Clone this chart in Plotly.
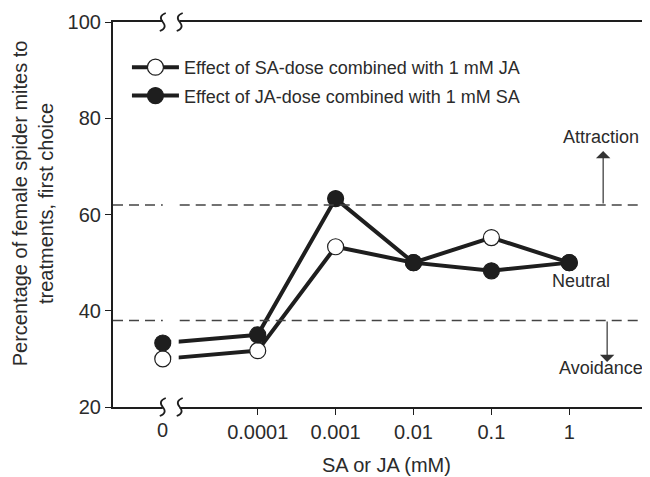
import math
import plotly.graph_objects as go

# ---- data ----
dose_labels = ["0", "0.0001", "0.001", "0.01", "0.1", "1"]
doses = [0, 0.0001, 0.001, 0.01, 0.1, 1]
sa_dose_with_ja = [30.0, 31.7, 53.3, 50.0, 55.2, 50.0]   # open circles
ja_dose_with_sa = [33.3, 35.0, 63.3, 50.0, 48.3, 50.0]   # filled circles
attraction_level = 62
avoidance_level = 38
series_names = ["Effect of SA-dose combined with 1 mM JA",
                "Effect of JA-dose combined with 1 mM SA"]

# ---- layout geometry (window pixels) ----
W, H = 650, 477
OFF = 8                      # default page body margin
L, R, T, B = 113, 647, 22, 407
XR = [-5.858, 0.972]
YR = [20, 100]
ZERO_POS = -5.219            # where the "0" dose sits, left of the axis break

xs = [math.log10(d) if d > 0 else ZERO_POS for d in doses]

def x2px(v):
    return L + (v - XR[0]) / (XR[1] - XR[0]) * (R - L)

def px(xp):
    return (xp - L) / (R - L)

def py(yp):
    return (B - yp) / (B - T)

def y2px(v):
    return B - (v - YR[0]) / (YR[1] - YR[0]) * (B - T)

INK = "#1e1e1e"
TXT = "#2b2b2b"
FONT = "Liberation Sans, Arial, sans-serif"

fig = go.Figure()
fig.add_trace(go.Scatter(
    x=xs, y=sa_dose_with_ja, mode="lines+markers", name=series_names[0],
    legendgroup="a",
    line=dict(color=INK, width=4),
    marker=dict(size=16, color="white", line=dict(color=INK, width=1.2)),
))
fig.add_trace(go.Scatter(
    x=xs, y=ja_dose_with_sa, mode="lines+markers", name=series_names[1],
    legendgroup="b",
    line=dict(color=INK, width=4),
    marker=dict(size=16, color=INK, line=dict(color=INK, width=1.2)),
))

shapes = []
b1 = x2px(ZERO_POS)           # first break mark (pixel)
b2 = b1 + 17                  # second break mark (pixel)

# dashed reference lines, interrupted at the break
for lvl in (attraction_level, avoidance_level):
    yp = py(y2px(lvl))
    for x0, x1 in ((px(L), px(b1)), (px(b2), px(R))):
        shapes.append(dict(type="line", xref="paper", yref="paper",
                           x0=x0, x1=x1, y0=yp, y1=yp,
                           line=dict(color="#444", width=1.5, dash="10px,6px")))

# white gap in series lines at the break
shapes.append(dict(type="rect", xref="paper", yref="paper", layer="above",
                   x0=px(b1 + 8.5), x1=px(b2 - 1), y0=py(B + 4), y1=py(T - 4),
                   fillcolor="white", line=dict(width=0)))
# gaps in the axis lines between break marks
for yc in (T, B):
    shapes.append(dict(type="rect", xref="paper", yref="paper", layer="above",
                       x0=px(b1), x1=px(b2), y0=py(yc + 4), y1=py(yc - 4),
                       fillcolor="white", line=dict(width=0)))

def s_path(cx, cy):
    pts = [(cx + 3, cy - 9), (cx - 5, cy - 6), (cx, cy),
           (cx + 5, cy + 6), (cx - 3, cy + 9)]
    p = [(px(a), py(b)) for a, b in pts]
    return (f"M {p[0][0]},{p[0][1]} Q {p[1][0]},{p[1][1]} {p[2][0]},{p[2][1]} "
            f"Q {p[3][0]},{p[3][1]} {p[4][0]},{p[4][1]}")

for yc in (T, B):
    for cx in (b1, b2):
        shapes.append(dict(type="path", xref="paper", yref="paper", layer="above",
                           path=s_path(cx, yc), line=dict(color=INK, width=1.8)))

annotations = [
    dict(text=dose_labels[0], xref="x", yref="paper", x=xs[0], y=py(B + 10),
         xanchor="center", yanchor="top", showarrow=False,
         font=dict(size=20, color=TXT, family=FONT)),
    dict(text="Percentage of female spider mites to<br>treatments, first choice",
         xref="paper", yref="paper", x=px(33), y=py(203), textangle=-90,
         showarrow=False, xanchor="center", yanchor="middle",
         font=dict(size=20, color=TXT, family=FONT)),
    dict(text="SA or JA (mM)", xref="paper", yref="paper", x=px(388), y=py(465),
         showarrow=False, xanchor="center", yanchor="middle",
         font=dict(size=20, color=TXT, family=FONT)),
    dict(text="Attraction", xref="paper", yref="paper", x=px(603), y=py(137),
         xanchor="center", yanchor="middle",
         showarrow=False, font=dict(size=18, color=TXT, family=FONT)),
    dict(text="Neutral", xref="paper", yref="paper", x=px(583), y=py(281),
         xanchor="center", yanchor="middle",
         showarrow=False, font=dict(size=18, color=TXT, family=FONT)),
    dict(text="Avoidance", xref="paper", yref="paper", x=px(603), y=py(368),
         xanchor="center", yanchor="middle",
         showarrow=False, font=dict(size=18, color=TXT, family=FONT)),
    dict(text="", xref="paper", yref="paper", x=px(605), y=py(151),
         ax=0, ay=54, showarrow=True, arrowhead=1, arrowsize=2,
         arrowwidth=1.2, arrowcolor="#333"),
    dict(text="", xref="paper", yref="paper", x=px(609), y=py(362),
         ax=0, ay=-42, showarrow=True, arrowhead=1, arrowsize=2,
         arrowwidth=1.2, arrowcolor="#333"),
]

fig.update_layout(
    width=W - OFF, height=H - OFF,
    margin=dict(l=L - OFF, r=W - R, t=T - OFF, b=H - B, pad=0),
    paper_bgcolor="white", plot_bgcolor="white",
    font=dict(family=FONT, color=TXT, size=18),
    showlegend=True,
    legend=dict(x=px(127), y=py(49), xanchor="left", yanchor="top",
                bgcolor="rgba(0,0,0,0)", font=dict(size=18, color=TXT, family=FONT),
                tracegroupgap=2, itemwidth=47),
    shapes=shapes,
    annotations=annotations,
    xaxis=dict(range=XR, showgrid=False, zeroline=False,
               showline=True, linecolor=INK, linewidth=2.2, mirror=True,
               ticks="outside", ticklen=6, tickwidth=1.2, tickcolor=INK,
               tickvals=xs[1:], ticktext=dose_labels[1:],
               tickfont=dict(size=20, color=TXT, family=FONT)),
    yaxis=dict(range=YR, showgrid=False, zeroline=False,
               showline=True, linecolor=INK, linewidth=2.2, mirror=True,
               ticks="outside", ticklen=6, tickwidth=1.2, tickcolor=INK,
               tickvals=[20, 40, 60, 80, 100],
               tickfont=dict(size=20, color=TXT, family=FONT)),
)

fig.write_html("out.html")
